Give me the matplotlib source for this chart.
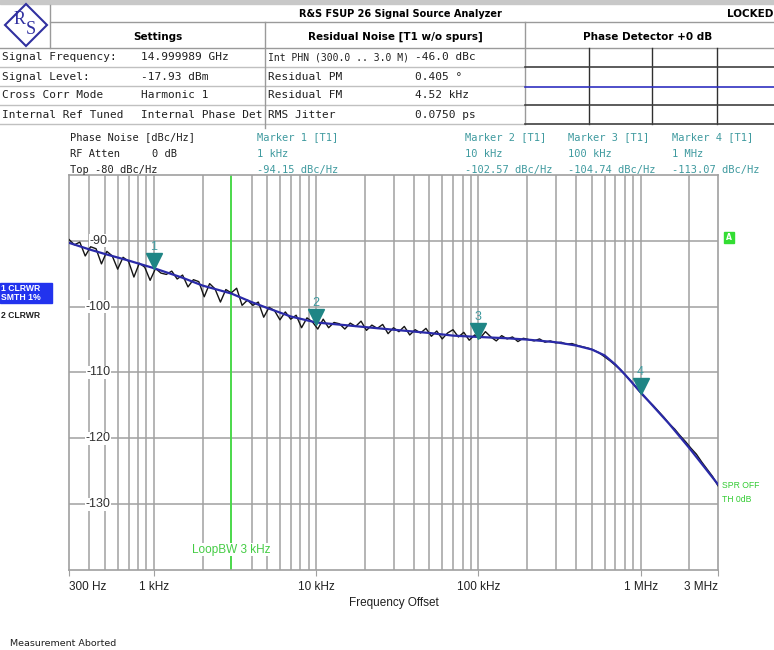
import numpy as np
import matplotlib
matplotlib.use('Agg')
import matplotlib.pyplot as plt
from matplotlib.lines import Line2D
from matplotlib.patches import Rectangle, Polygon
from matplotlib import transforms

# --- DATA ---
# smoothed trace (blue)
smooth_freq = [300, 400, 500, 700, 1e3, 1.5e3, 2e3, 3e3, 4e3, 5e3, 7e3, 1e4, 1.5e4, 2e4,
               3e4, 5e4, 7e4, 1e5, 1.5e5, 2e5, 3e5, 4e5, 5e5, 6e5, 7e5, 8e5, 1e6,
               1.5e6, 2e6, 3e6]
smooth_val = [-90.3, -91.3, -92.0, -93.0, -94.15, -95.6, -96.8, -98.0, -99.3, -100.2,
              -101.5, -102.4, -102.8, -103.1, -103.5, -104.0, -104.4, -104.6, -104.8,
              -105.0, -105.4, -105.9, -106.5, -107.4, -108.8, -110.3, -113.0,
              -117.8, -121.5, -127.0]

# raw trace (black), 121 sweep points from 300 Hz to 3 MHz
raw_val = [-89.8, -90.6, -90.2, -92.3, -90.9, -91.2, -93.5, -91.6, -92.3, -94.3,
           -92.5, -93.1, -95.5, -93.4, -94.0, -96.0, -94.2, -94.9, -95.1, -94.6,
           -95.8, -95.2, -97.0, -95.9, -96.2, -98.5, -96.5, -97.3, -99.3, -97.4,
           -97.9, -97.2, -99.8, -99.0, -99.8, -99.3, -101.6, -100.1, -100.6, -102.0,
           -100.8, -101.9, -101.3, -103.2, -101.7, -102.3, -103.4, -101.9, -103.2, -102.4,
           -102.6, -103.4, -102.5, -103.0, -102.2, -103.6, -102.8, -103.3, -102.7, -104.1,
           -103.2, -103.8, -103.0, -104.3, -103.5, -104.0, -103.3, -104.5, -103.7, -104.9,
           -104.0, -103.5, -104.6, -103.9, -105.1, -104.3, -104.8, -103.8, -104.6, -105.2,
           -104.4, -104.9, -104.6, -105.3, -104.8, -105.0, -105.2, -104.9, -105.4, -105.2,
           -105.5, -105.4, -105.7, -105.6, -105.9, -106.1, -106.3, -106.6, -107.0, -107.6,
           -108.2, -108.9, -109.6, -110.5, -111.4, -112.4, -113.4, -114.2, -115.0, -115.9,
           -116.8, -117.8, -118.6, -119.6, -120.5, -121.5, -122.4, -123.6, -124.7, -125.8,
           -127.2]
raw_freq = np.geomspace(300, 3e6, len(raw_val))

marker_freq = [1e3, 1e4, 1e5, 1e6]
marker_val = [-94.15, -102.57, -104.74, -113.07]
marker_names = ['1', '2', '3', '4']
marker_freq_lbl = ['1 kHz', '10 kHz', '100 kHz', '1 MHz']

xtick_pos = [300, 1e3, 1e4, 1e5, 1e6, 3e6]
xtick_lbl = ['300 Hz', '1 kHz', '10 kHz', '100 kHz', '1 MHz', '3 MHz']
ytick_pos = [-90, -100, -110, -120, -130]

settings_lbl = ['Signal Frequency:', 'Signal Level:', 'Cross Corr Mode', 'Internal Ref Tuned']
settings_val = ['14.999989 GHz', '-17.93 dBm', 'Harmonic 1', 'Internal Phase Det']
noise_lbl = ['Int PHN (300.0 .. 3.0 M)', 'Residual PM', 'Residual FM', 'RMS Jitter']
noise_val = ['-46.0 dBc', '0.405 °', '4.52 kHz', '0.0750 ps']

loop_bw = 3e3

W, H = 774, 650
def fx(x):
    return x / W
def fy(y):
    return 1 - y / H

fig = plt.figure(figsize=(W / 100, H / 100), dpi=100)
fig.patch.set_facecolor('white')

def hline(y, x0, x1, color='#9a9a9a', lw=1.0):
    fig.add_artist(Line2D([fx(x0), fx(x1)], [fy(y), fy(y)], color=color, lw=lw,
                          transform=fig.transFigure))

def vline(x, y0, y1, color='#9a9a9a', lw=1.0):
    fig.add_artist(Line2D([fx(x), fx(x)], [fy(y0), fy(y1)], color=color, lw=lw,
                          transform=fig.transFigure))

def ftext(x, y, s, **kw):
    kw.setdefault('va', 'center')
    kw.setdefault('fontsize', 7.5)
    fig.text(fx(x), fy(y), s, **kw)

MONO = 'DejaVu Sans Mono'

# --- HEADER TABLE ---
fig.add_artist(Rectangle((0, fy(4)), 1, 4 / H, color='#c8c8c8', transform=fig.transFigure))
hline(22, 50, 774)
hline(48, 0, 774)
for y in [67, 86, 105, 124]:
    hline(y, 0, 525, color='#c0c0c0')
vline(50, 5, 48)
vline(265, 22, 128)
vline(525, 22, 124)
# phase detector grid
for x in [589, 652, 717]:
    vline(x, 48, 124, color='#303030')
for y in [67, 105, 124]:
    hline(y, 525, 774, color='#404040', lw=1.2)
hline(87, 525, 774, color='#3030c0', lw=1.2)

# logo
fig.add_artist(Polygon([[fx(26), fy(4)], [fx(47), fy(25)], [fx(26), fy(46)], [fx(5), fy(25)]],
                       closed=True, fill=False, edgecolor='#3030a0', lw=1.5,
                       transform=fig.transFigure))
ftext(20, 19, 'R', color='#3030a0', fontsize=13, ha='center', family='Liberation Serif')
ftext(31, 30, 'S', color='#3030a0', fontsize=13, ha='center', family='Liberation Serif')

ftext(400, 14, 'R&S FSUP 26 Signal Source Analyzer', fontsize=7, weight='bold', ha='center')
ftext(773, 14, 'LOCKED', fontsize=7.5, weight='bold', ha='right')
ftext(158, 37, 'Settings', fontsize=7.5, weight='bold', ha='center')
ftext(395, 37, 'Residual Noise [T1 w/o spurs]', fontsize=7.5, weight='bold', ha='center')
ftext(648, 37, 'Phase Detector +0 dB', fontsize=7.5, weight='bold', ha='center')

for i, y in enumerate([57.5, 76.5, 95.5, 114.5]):
    ftext(2, y, settings_lbl[i], color='#202020', family=MONO, fontsize=8)
    ftext(141, y, settings_val[i], color='#202020', family=MONO, fontsize=8)
    ftext(268, y, noise_lbl[i], color='#202020', family=MONO,
          fontsize=7 if i == 0 else 8)
    ftext(415, y, noise_val[i], color='#202020', family=MONO, fontsize=8)

# trace info above plot
ftext(70, 137, 'Phase Noise [dBc/Hz]', color='#202020', family=MONO)
ftext(70, 154, 'RF Atten', color='#202020', family=MONO)
ftext(152, 154, '0 dB', color='#202020', family=MONO)
ftext(70, 170, 'Top -80 dBc/Hz', color='#202020', family=MONO)
teal = '#3f9a9f'
for i, x in enumerate([257, 465, 568, 672]):
    ftext(x, 137, 'Marker %s [T1]' % marker_names[i], color=teal, family=MONO)
    ftext(x, 154, marker_freq_lbl[i], color=teal, family=MONO)
    ftext(x, 170, '%.2f dBc/Hz' % marker_val[i], color=teal, family=MONO)

# left trace labels
fig.add_artist(Rectangle((0, fy(303)), fx(52), 20 / H, color='#2233ee', transform=fig.transFigure))
ftext(1, 288, '1 CLRWR', color='white', fontsize=6.2, weight='bold', family='Liberation Sans')
ftext(1, 298, 'SMTH 1%', color='white', fontsize=6.2, weight='bold', family='Liberation Sans')
ftext(1, 316, '2 CLRWR', color='#202020', fontsize=6.2, weight='bold', family='Liberation Sans')

# right labels
fig.add_artist(Rectangle((fx(724), fy(243)), 10 / W, 11 / H, color='#33dd33', transform=fig.transFigure))
ftext(729, 237.5, 'A', color='white', fontsize=5.5, ha='center', weight='bold')
ftext(722, 486, 'SPR OFF', color='#33cc33', fontsize=6.2, family='Liberation Sans')
ftext(722, 499, 'TH 0dB', color='#33cc33', fontsize=6.2, family='Liberation Sans')

ftext(10, 643, 'Measurement Aborted', color='#202020', fontsize=6.8)

# --- PLOT ---
ax = fig.add_axes([fx(69), fy(570), (718 - 69) / W, (570 - 175) / H])
ax.set_xscale('log')
ax.set_xlim(300, 3e6)
ax.set_ylim(-140, -80)
grid_c = '#a0a0a0'
for s in ax.spines.values():
    s.set_color(grid_c)
    s.set_linewidth(1.2)

minor = [m * 10 ** d for d in range(2, 7) for m in range(1, 10)]
for f in minor:
    if 300 < f < 3e6:
        ax.axvline(f, color=grid_c, lw=1.1, zorder=1)
for v in ytick_pos:
    ax.axhline(v, color=grid_c, lw=1.1, zorder=1)

ax.axvline(loop_bw, color='#44dd44', lw=1.3, zorder=2)
ax.text(loop_bw, -136.9, 'LoopBW 3 kHz', color='#44cc44', fontsize=8.5, ha='center',
        va='center', family='Liberation Sans',
        bbox=dict(facecolor='white', edgecolor='none', pad=0.5), zorder=3)

ytr = transforms.blended_transform_factory(ax.transAxes, ax.transData)
for v in ytick_pos:
    ax.text(0.045, v, str(v), transform=ytr,
            ha='center', va='center', fontsize=9, color='#303030', family='Liberation Sans',
            bbox=dict(facecolor='white', edgecolor='none', pad=0.3), zorder=3)

ax.plot(raw_freq, raw_val, color='#151515', lw=1.0, zorder=4)
ax.plot(smooth_freq, smooth_val, color='#2a2aa8', lw=1.6, zorder=5)

tri_tr = transforms.offset_copy(ax.transData, fig=fig, x=0, y=5, units='points')
num_tr = transforms.offset_copy(ax.transData, fig=fig, x=0, y=15, units='points')
for f, v, n in zip(marker_freq, marker_val, marker_names):
    ax.plot([f], [v], marker='v', color='#1f8585', markersize=11, transform=tri_tr, zorder=6)
    ax.text(f, v, n, transform=num_tr, color=teal, fontsize=9, ha='center',
            va='center', family='Liberation Sans', zorder=6)

ax.set_xticks(xtick_pos)
ax.set_xticklabels(xtick_lbl, family='Liberation Sans', fontsize=8.5, color='#202020')
ax.xaxis.set_minor_locator(matplotlib.ticker.NullLocator())
ax.tick_params(axis='x', length=4, color=grid_c, pad=4)
labels = ax.get_xticklabels()
labels[0].set_ha('left')
labels[-1].set_ha('right')
ax.set_yticks([])
ax.set_xlabel('Frequency Offset', family='Liberation Sans', fontsize=8.5, color='#202020',
              labelpad=3)

fig.savefig('out.png', dpi=100)
